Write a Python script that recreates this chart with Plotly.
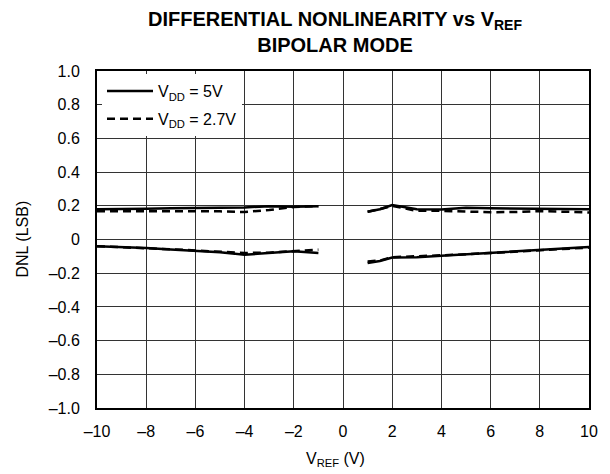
import plotly.graph_objects as go

# ---- data ----
x_left = [-10, -9, -8, -7, -6, -5, -4, -3, -2, -1]
x_right = [1, 1.5, 2, 3, 4, 5, 6, 7, 8, 9, 10]

upper_5v_left = [0.18, 0.18, 0.182, 0.185, 0.185, 0.188, 0.19, 0.198, 0.195, 0.198]
upper_27v_left = [0.167, 0.168, 0.168, 0.168, 0.168, 0.167, 0.163, 0.175, 0.193, 0.198]
lower_5v_left = [-0.04, -0.045, -0.05, -0.06, -0.067, -0.075, -0.09, -0.08, -0.07, -0.08]
lower_27v_left = [-0.04, -0.045, -0.05, -0.058, -0.065, -0.072, -0.08, -0.078, -0.068, -0.06]

upper_5v_right = [0.165, 0.18, 0.205, 0.18, 0.178, 0.188, 0.185, 0.183, 0.183, 0.182, 0.18]
upper_27v_right = [0.165, 0.18, 0.2, 0.17, 0.17, 0.165, 0.162, 0.163, 0.168, 0.165, 0.16]
lower_5v_right = [-0.14, -0.128, -0.107, -0.105, -0.097, -0.088, -0.08, -0.072, -0.062, -0.052, -0.044]
lower_27v_right = [-0.13, -0.125, -0.105, -0.1, -0.095, -0.088, -0.08, -0.072, -0.062, -0.055, -0.048]

x_ticks = [-10, -8, -6, -4, -2, 0, 2, 4, 6, 8, 10]
x_ticktext = ["–10", "–8", "–6", "–4", "–2", "0", "2", "4", "6", "8", "10"]
y_ticks = [1.0, 0.8, 0.6, 0.4, 0.2, 0, -0.2, -0.4, -0.6, -0.8, -1.0]
y_ticktext = ["1.0", "0.8", "0.6", "0.4", "0.2", "0", "–0.2", "–0.4", "–0.6", "–0.8", "–1.0"]

series_names = ["V<sub>DD</sub> = 5V", "V<sub>DD</sub> = 2.7V"]
title_text = "<b>DIFFERENTIAL NONLINEARITY vs V<sub>REF</sub><br>BIPOLAR MODE</b>"
x_title = "V<sub>REF</sub> (V)"
y_title = "DNL (LSB)"

FONT = "Liberation Sans, Arial, sans-serif"

x_all = x_left + [None] + x_right

fig = go.Figure()

def add(name, yl, yr, dash, show, group):
    fig.add_trace(go.Scatter(
        x=x_all, y=yl + [None] + yr, mode="lines", name=name,
        line=dict(color="black", width=2.5, dash=dash),
        showlegend=show, legendgroup=group, connectgaps=False,
    ))

add(series_names[0], upper_5v_left, upper_5v_right, "solid", True, "a")
add(series_names[0], lower_5v_left, lower_5v_right, "solid", False, "a")
add(series_names[1], upper_27v_left, upper_27v_right, "8px,5px", True, "b")
add(series_names[1], lower_27v_left, lower_27v_right, "8px,5px", False, "b")

PW = 589 - 97
PH = 408 - 71

fig.update_layout(
    width=610, height=474,
    margin=dict(l=97, r=21, t=71, b=66),
    paper_bgcolor="white", plot_bgcolor="white",
    font=dict(family=FONT, size=16, color="black"),
    title=dict(
        text=title_text,
        x=335 / 610, xanchor="center", xref="container",
        y=1 - 26 / 474, yanchor="top",
        font=dict(family=FONT, size=20, color="black"),
    ),
    legend=dict(
        x=5 / PW, y=1 - 3 / PH, xanchor="left", yanchor="top",
        bgcolor="white", borderwidth=0,
        font=dict(family=FONT, size=16, color="black"),
        tracegroupgap=4, itemwidth=46,
    ),
    xaxis=dict(
        range=[-10, 10], tickvals=x_ticks, ticktext=x_ticktext,
        showgrid=True, gridcolor="#333", gridwidth=1,
        zeroline=False, showline=True, mirror=True, linecolor="black", linewidth=2,
        ticks="", tickfont=dict(size=16), ticklabelstandoff=8,
    ),
    yaxis=dict(
        range=[-1, 1], tickvals=y_ticks, ticktext=y_ticktext,
        showgrid=True, gridcolor="#333", gridwidth=1,
        zeroline=False, showline=True, mirror=True, linecolor="black", linewidth=2,
        ticks="", tickfont=dict(size=16), ticklabelstandoff=12,
    ),
    annotations=[
        dict(text=x_title, xref="paper", yref="paper",
             x=(335 - 97) / PW, y=-(459 - 408) / PH,
             xanchor="center", yanchor="middle", showarrow=False,
             font=dict(size=16)),
        dict(text=y_title, xref="paper", yref="paper",
             x=-(97 - 22) / PW, y=0.5, textangle=-90,
             xanchor="center", yanchor="middle", showarrow=False,
             font=dict(size=16)),
    ],
)

fig.write_html("out.html", config={"displayModeBar": False},
               post_script="document.body.style.margin='0';")
